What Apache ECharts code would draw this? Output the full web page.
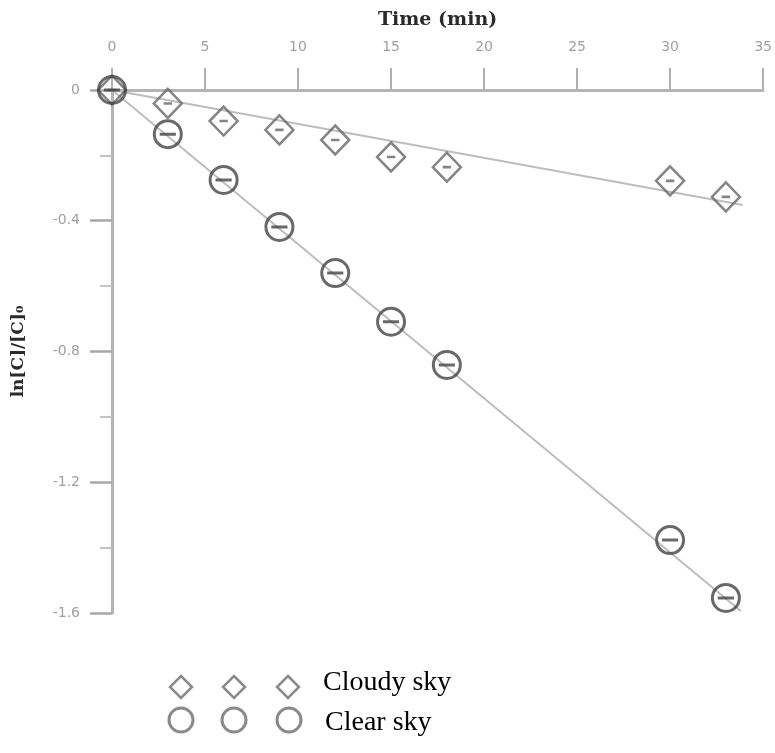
<!DOCTYPE html>
<html>
<head>
<meta charset="utf-8">
<title>ln[C]/[C]0 vs time</title>
<script src="https://cdn.jsdelivr.net/npm/echarts@6/dist/echarts.min.js"></script>
<style>
  html, body { margin: 0; padding: 0; background: #fff; }
  #main { width: 775px; height: 753px; }
</style>
</head>
<body>
<div id="main"></div>
<script>
// data
var times = [0, 3, 6, 9, 12, 15, 18, 30, 33];
var cloudy = [0, -0.041, -0.095, -0.122, -0.153, -0.205, -0.236, -0.278, -0.327];
var clear = [0, -0.135, -0.275, -0.419, -0.56, -0.709, -0.841, -1.377, -1.554];
// fitted lines (end points)
var cloudyFit = [[0, 0], [33.9, -0.352]];
var clearFit = [[0, 0], [33.8, -1.594]];

var xTicks = [0, 5, 10, 15, 20, 25, 30, 35];
var yTicks = [0, -0.4, -0.8, -1.2, -1.6];

function pairs(xs, ys) {
    var out = [];
    for (var i = 0; i < xs.length; i++) {
        out.push([xs[i], ys[i]]);
    }
    return out;
}

// legend diamond, centred on (cx, cy)
function diamond(cx, cy) {
    return {
        type: 'polygon',
        shape: { points: [[cx, cy - 11], [cx + 11, cy], [cx, cy + 11], [cx - 11, cy]] },
        style: { fill: 'none', stroke: '#8a8a8a', lineWidth: 2.5 }
    };
}
function ring(cx, cy) {
    return {
        type: 'circle',
        shape: { cx: cx, cy: cy, r: 12 },
        style: { fill: 'none', stroke: '#8a8a8a', lineWidth: 3 }
    };
}

var circleSym = 'path://M0,10A10,10,0,1,1,20,10A10,10,0,1,1,0,10Z M4,10L16,10';
var diamondSym = 'path://M10,0L20,10L10,20L0,10Z M7,10L13,10';

var myChart = echarts.init(document.getElementById('main'));
var option = {
    backgroundColor: '#fff',
    animation: false,
    grid: { left: 112, top: 90, right: 10, bottom: 140 },
    xAxis: {
        type: 'value',
        position: 'top',
        min: xTicks[0],
        max: xTicks[xTicks.length - 1],
        interval: 5,
        name: 'Time (min)',
        nameLocation: 'middle',
        nameGap: 60,
        nameTextStyle: { fontFamily: 'DejaVu Serif', fontWeight: 'bold', fontSize: 19, color: '#2a2a2a' },
        axisLine: { show: true, lineStyle: { color: '#b4b4b4', width: 3 } },
        axisTick: { show: true, length: 22, lineStyle: { color: '#b0b0b0', width: 2 } },
        axisLabel: { margin: 36, color: '#a0a0a0', fontSize: 14, fontFamily: 'DejaVu Sans' },
        splitLine: { show: false }
    },
    yAxis: {
        type: 'value',
        min: yTicks[yTicks.length - 1],
        max: yTicks[0],
        interval: 0.4,
        name: 'ln[C]/[C]₀',
        nameLocation: 'middle',
        nameGap: 85,
        nameTextStyle: { fontFamily: 'DejaVu Serif', fontWeight: 'bold', fontSize: 17, color: '#2a2a2a' },
        axisLine: { show: true, onZero: false, lineStyle: { color: '#b4b4b4', width: 3 } },
        axisTick: { show: true, length: 22, lineStyle: { color: '#a8a8a8', width: 2.5 } },
        minorTick: { show: true, splitNumber: 2, length: 12, lineStyle: { color: '#c4c4c4', width: 2 } },
        axisLabel: {
            margin: 32, color: '#a0a0a0', fontSize: 14, fontFamily: 'DejaVu Sans',
            formatter: function (v) { return v === 0 ? '0' : v.toFixed(1); }
        },
        splitLine: { show: false }
    },
    series: [
        {
            name: 'Cloudy fit',
            type: 'line',
            data: cloudyFit,
            showSymbol: false,
            lineStyle: { color: '#bdbdbd', width: 2 },
            z: 1
        },
        {
            name: 'Clear fit',
            type: 'line',
            data: clearFit,
            showSymbol: false,
            lineStyle: { color: '#bdbdbd', width: 2 },
            z: 1
        },
        {
            name: 'Cloudy sky',
            type: 'scatter',
            data: pairs(times, cloudy),
            symbol: diamondSym,
            symbolSize: [28, 29],
            itemStyle: { color: 'rgba(255,255,255,0)', borderColor: '#666', borderWidth: 2.5 },
            z: 3
        },
        {
            name: 'Clear sky',
            type: 'scatter',
            data: pairs(times, clear),
            symbol: circleSym,
            symbolSize: 27,
            itemStyle: { color: 'rgba(255,255,255,0)', borderColor: '#444', borderWidth: 3 },
            z: 4
        }
    ],
    graphic: [
        diamond(181, 687), diamond(234, 687), diamond(288, 687),
        { type: 'text', x: 323, y: 683, style: { text: 'Cloudy sky', fill: '#000', font: '28px "Liberation Serif"', textVerticalAlign: 'middle' } },
        ring(181, 720), ring(234, 720), ring(289, 720),
        { type: 'text', x: 325, y: 723, style: { text: 'Clear sky', fill: '#000', font: '28px "Liberation Serif"', textVerticalAlign: 'middle' } }
    ]
};
myChart.setOption(option);
</script>
</body>
</html>
